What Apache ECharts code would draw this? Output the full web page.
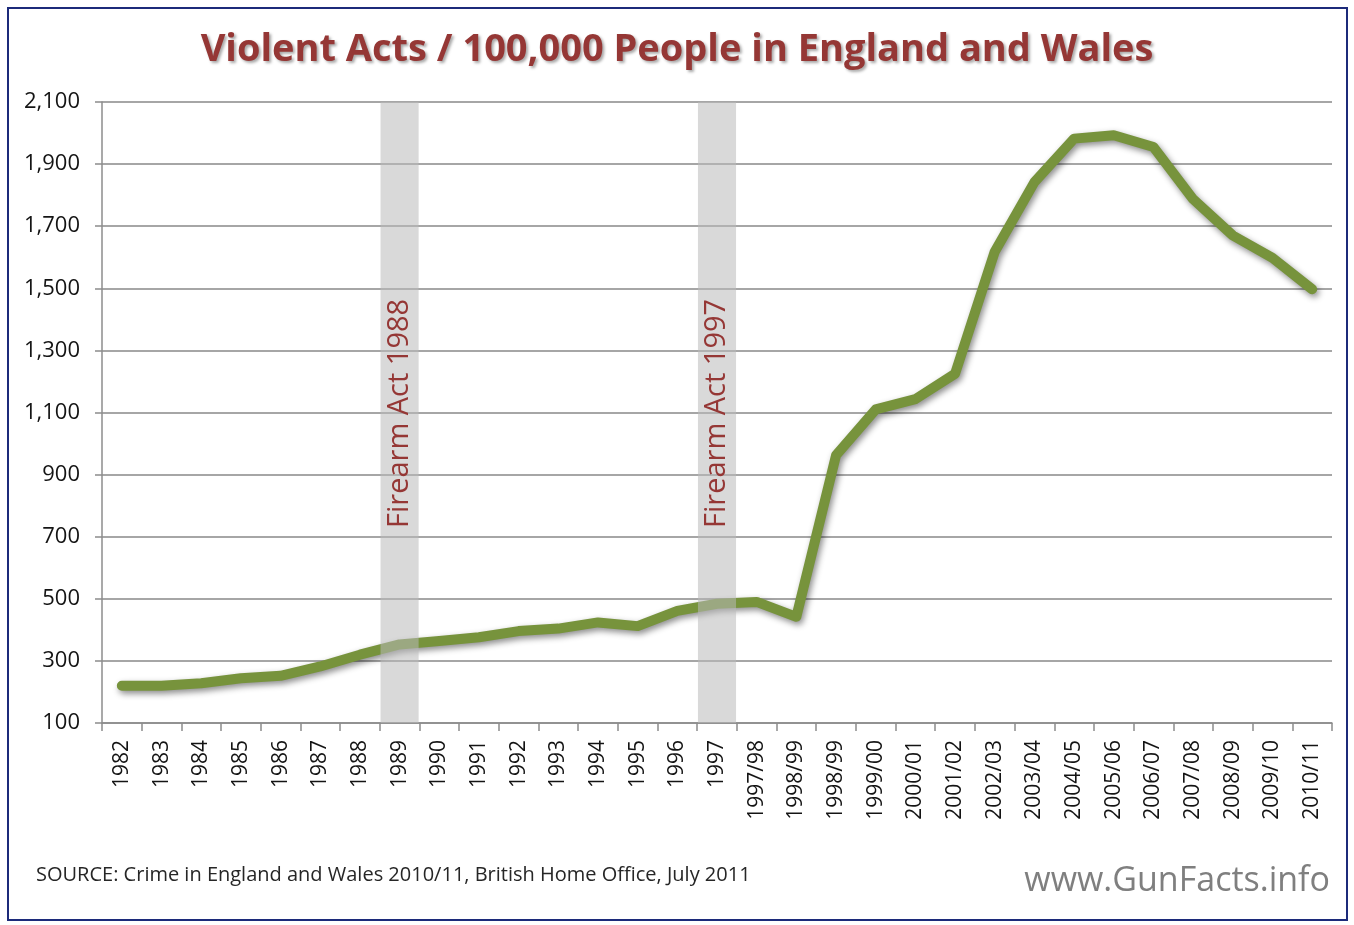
<!DOCTYPE html>
<html>
<head>
<meta charset="utf-8">
<title>Violent Acts / 100,000 People in England and Wales</title>
<script src="https://cdn.jsdelivr.net/npm/echarts@6/dist/echarts.min.js"></script>
<style>
  html, body { margin: 0; padding: 0; background: #ffffff; }
  #wrap { position: relative; width: 1354px; height: 925px; }
  #frame { position: absolute; left: 7px; top: 7px; width: 1341px; height: 914px;
           border: 2px solid #1c2a7a; box-sizing: border-box; pointer-events: none; z-index: 2; }
  #chart { position: absolute; left: 0; top: 0; width: 1354px; height: 925px; }
</style>
</head>
<body>
<div id="wrap">
  <div id="chart"></div>
  <div id="frame"></div>
</div>
<script>
// Reporting periods: calendar years up to 1997, then financial years
const periods = ['1982', '1983', '1984', '1985', '1986', '1987', '1988', '1989', '1990', '1991',
  '1992', '1993', '1994', '1995', '1996', '1997', '1997/98', '1998/99', '1998/99', '1999/00',
  '2000/01', '2001/02', '2002/03', '2003/04', '2004/05', '2005/06', '2006/07', '2007/08',
  '2008/09', '2009/10', '2010/11'];

// Violent acts recorded per 100,000 people
const violentRate = [220, 220, 228, 244, 252, 282, 320, 353, 364, 376,
  396, 404, 424, 412, 461, 484, 490, 442, 962, 1110,
  1143, 1225, 1618, 1842, 1982, 1993, 1955, 1787, 1670, 1598, 1497];

// Firearms legislation: the period each act is marked on, and its label
const actPeriodIndex = [7, 15];
const actLabels = ['Firearm Act 1988', 'Firearm Act 1997'];
const actLabelStart = 728;   // value where the rotated label text begins

// Value axis range and step
const yMin = 100;
const yMax = 2100;
const yStep = 200;

const titleText = 'Violent Acts / 100,000 People in England and Wales';
const sourceText = 'SOURCE: Crime in England and Wales 2010/11, British Home Office, July 2011';
const siteText = 'www.GunFacts.info';

const baseFont = '"Open Sans", "Noto Sans", sans-serif';

// Shaded band for each act: a full-height bar on its period
const bandData = periods.map(function (_, i) {
  return actPeriodIndex.indexOf(i) >= 0 ? yMax : null;
});
const actLabelData = actPeriodIndex.map(function (idx, k) {
  return { value: [idx, actLabelStart], name: actLabels[k] };
});

const chart = echarts.init(document.getElementById('chart'), null, { renderer: 'canvas' });

chart.setOption({
  backgroundColor: '#ffffff',
  animation: false,
  title: [
    {
      text: titleText,
      left: 'center',
      top: 26,
      textStyle: {
        fontFamily: baseFont,
        fontSize: 38,
        fontWeight: 'bold',
        color: '#953735',
        textShadowColor: 'rgba(0,0,0,0.35)',
        textShadowBlur: 3,
        textShadowOffsetX: 2,
        textShadowOffsetY: 2
      }
    },
    {
      text: sourceText,
      left: 31,
      top: 860,
      textStyle: { fontFamily: baseFont, fontSize: 20, fontWeight: 'normal', color: '#262626' }
    },
    {
      text: siteText,
      right: 19,
      top: 859,
      textStyle: { fontFamily: baseFont, fontSize: 34, fontWeight: 'normal', color: '#7f7f7f' }
    }
  ],
  grid: { left: 102, right: 22, top: 102, bottom: 202, containLabel: false },
  xAxis: {
    type: 'category',
    data: periods,
    boundaryGap: true,
    axisLine: { show: true, lineStyle: { color: '#8c8c8c', width: 1.5 } },
    axisTick: { show: true, interval: 0, length: 8, lineStyle: { color: '#8c8c8c', width: 1.5 } },
    axisLabel: {
      interval: 0,
      rotate: 90,
      margin: 17,
      fontFamily: baseFont,
      fontSize: 21,
      color: '#141414'
    },
    splitLine: { show: false }
  },
  yAxis: {
    type: 'value',
    min: yMin,
    max: yMax,
    interval: yStep,
    axisLine: { show: true, lineStyle: { color: '#8c8c8c', width: 1.5 } },
    axisTick: { show: true, length: 7, lineStyle: { color: '#8c8c8c', width: 1.5 } },
    axisLabel: {
      margin: 22,
      fontFamily: baseFont,
      fontSize: 22,
      color: '#141414',
      formatter: function (v) { return v.toLocaleString('en-US'); }
    },
    splitLine: { show: true, lineStyle: { color: '#a6a6a6', width: 2 } }
  },
  series: [
    {
      name: 'Violent acts per 100,000',
      type: 'line',
      data: violentRate,
      z: 2,
      symbol: 'none',
      smooth: false,
      lineStyle: {
        color: '#77933c',
        width: 10,
        cap: 'round',
        join: 'round',
        shadowColor: 'rgba(0,0,0,0.45)',
        shadowBlur: 6,
        shadowOffsetX: 2,
        shadowOffsetY: 3
      }
    },
    {
      name: 'Firearms legislation',
      type: 'bar',
      data: bandData,
      z: 3,
      clip: true,
      barWidth: '96%',
      itemStyle: { color: 'rgba(185,185,185,0.55)' },
      silent: true
    },
    {
      name: 'Act labels',
      type: 'scatter',
      data: actLabelData,
      z: 10,
      symbolSize: 0,
      silent: true,
      itemStyle: { opacity: 1 },
      label: {
        show: true,
        position: 'inside',
        rotate: 90,
        align: 'left',
        verticalAlign: 'middle',
        formatter: function (p) { return p.name; },
        fontFamily: baseFont,
        fontSize: 29,
        fontWeight: 'normal',
        color: '#953735',
        opacity: 1
      }
    }
  ]
});
</script>
</body>
</html>
